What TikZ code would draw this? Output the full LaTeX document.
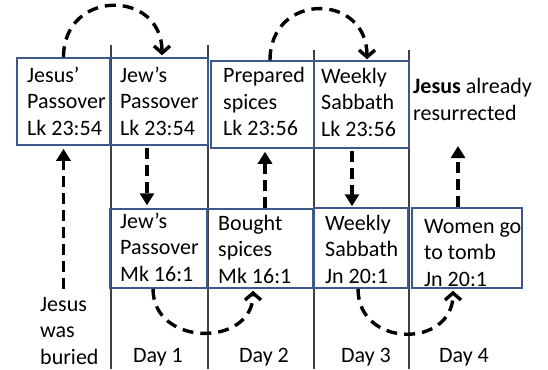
\documentclass[tikz,border=0pt]{standalone}
\usepackage{fontspec}
\setmainfont{Carlito}
\usetikzlibrary{arrows.meta,calc}
\definecolor{boxblue}{RGB}{59,89,138}
\newcommand\diagfont{\fontsize{22}{26.5}\selectfont}
\begin{document}
\begin{tikzpicture}[x=1pt,y=1pt,
  box/.style={draw=boxblue,line width=1.5pt,inner sep=0pt},
  txt/.style={font=\diagfont,align=left,inner sep=0pt,anchor=north west},
  daylbl/.style={font=\diagfont,inner sep=0pt,anchor=base},
  col/.style={line width=1.1pt,draw=black!75},
  vdash/.style={line width=3.4pt,dash pattern=on 11pt off 6pt,-{Triangle[length=12pt,width=14pt]}},
  adash/.style={line width=3.4pt,dash pattern=on 11pt off 7pt,-{Straight Barb[length=7pt,width=16pt]}},
]
\useasboundingbox (0,0) rectangle (548,-369);
% column lines
\draw[col] (111,-45) -- (111,-369);
\draw[col] (208,-45) -- (208,-369);
\draw[col] (314,-50) -- (314,-369);
\draw[col] (409,-50) -- (409,-369);
% top boxes
\node[box,minimum width=93pt,minimum height=87pt] (b1) at (63.5,-101.5) {};
\node[box,minimum width=98pt,minimum height=87pt] (b2) at (159,-101.5) {};
\node[box,minimum width=103pt,minimum height=87pt] (b3) at (262.5,-104.5) {};
\node[box,minimum width=95pt,minimum height=87pt] (b4) at (361.5,-104.5) {};
% bottom boxes
\node[box,minimum width=97pt,minimum height=79pt] (b5) at (158.5,-248.5) {};
\node[box,minimum width=106pt,minimum height=79pt] (b6) at (260,-248.5) {};
\node[box,minimum width=94pt,minimum height=80pt] (b7) at (361,-248) {};
\node[box,minimum width=110pt,minimum height=80pt] (b8) at (467,-248) {};
% box texts (north = first baseline - 0.7 baselineskip)
\node[txt] (t1) at (27,-63.5) {\strut Jesus’\\Passover\\Lk 23:54};
\node[txt] (t2) at (120,-63.5) {\strut Jew’s\\Passover\\Lk 23:54};
\node[txt] (t3) at (223,-64) {\strut Prepared\\spices\\Lk 23:56};
\node[txt] (t4) at (321,-64.5) {\strut Weekly\\Sabbath\\Lk 23:56};
\node[txt] (t5) at (120,-209.5) {\strut Jew’s\\Passover\\Mk 16:1};
\node[txt] (t6) at (218,-211.5) {\strut Bought\\spices\\Mk 16:1};
\node[txt] (t7) at (325,-211.5) {\strut Weekly\\Sabbath\\Jn 20:1};
\node[txt] (t8) at (424,-214.5) {\strut Women go\\to tomb\\Jn 20:1};
% free texts
\node[txt] (jr) at (413,-75) {\strut\textbf{Jesus} already\\resurrected};
\node[txt] (jb) at (40,-292.5) {\strut Jesus\\was\\buried};
\node[daylbl] (d1) at (158,-362) {Day 1};
\node[daylbl] (d2) at (264,-362) {Day 2};
\node[daylbl] (d3) at (366,-362) {Day 3};
\node[daylbl] (d4) at (464,-362) {Day 4};
% helper coordinates
\coordinate (a1) at (63.5,-289);
\coordinate (a2) at ([xshift=-12pt]b2.south);
\coordinate (a3) at ([xshift=5pt]b6.north);
\coordinate (a4) at ([xshift=-9.5pt]b4.south);
\coordinate (a5) at ([xshift=-9pt]b8.north);
\coordinate (up) at (458,-146);
% vertical arrows
\draw[vdash,shorten >=3pt] (a1) -- (b1.south);
\draw[vdash,shorten <=2pt,shorten >=3pt] (a2) -- (a2 |- b5.north);
\draw[vdash,shorten >=3pt] (a3) -- (a3 |- b3.south);
\draw[vdash,shorten <=2pt,shorten >=1pt] (a4) -- (a4 |- b7.north);
\draw[vdash] (a5) -- (up);
% arcs
\draw[adash,shorten >=2pt] (b1.north) to[out=90,in=90,looseness=1.78] ([xshift=3pt]b2.north);
\draw[adash,shorten >=1pt] ([xshift=7.5pt]b3.north) to[out=90,in=90,looseness=1.8] ([xshift=5.5pt]b4.north);
\draw[adash,shorten >=2pt] ([xshift=-5.5pt]b5.south) to[out=-90,in=-90,looseness=1.5] ([xshift=-7pt]b6.south);
\draw[adash,shorten >=2pt] ([xshift=-3pt]b7.south) to[out=-90,in=-90,looseness=1.61] ([xshift=-14pt]b8.south);
\end{tikzpicture}
\end{document}
